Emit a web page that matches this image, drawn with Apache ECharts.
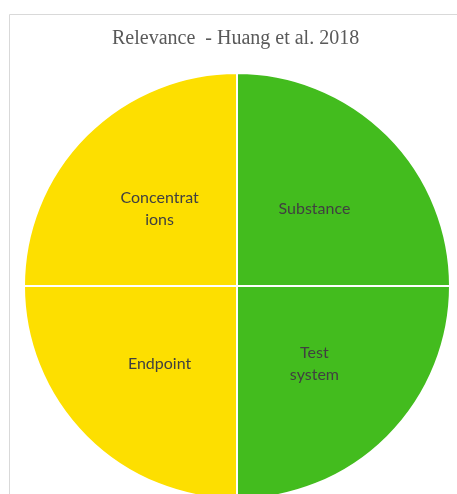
<!DOCTYPE html>
<html lang="en">
<head>
    <meta charset="UTF-8">
    <title>Relevance - Huang et al. 2018</title>
    <style>
        html, body { margin: 0; padding: 0; background: #fff; }
        #chart { width: 457px; height: 494px; }
    </style>
</head>
<body>
    <div id="chart"></div>
    <script src="https://cdn.jsdelivr.net/npm/echarts@6/dist/echarts.min.js"></script>
    <script>
        // criteria in clockwise order from 12 o'clock
        let categories = ['Substance', 'Test\nsystem', 'Endpoint', 'Concentrat\nions']
        let values = [1, 1, 1, 1]
        let colors = ['#43bc1e', '#43bc1e', '#fddf00', '#fddf00']

        let chart = echarts.init(document.getElementById('chart'))

        let sData = categories.map((name, i) => {
            return { name: name, value: values[i], itemStyle: { color: colors[i] } }
        })

        let option = {
            animation: false,
            title: {
                text: 'Relevance  - Huang et al. 2018',
                left: 107,
                top: 24,
                textStyle: {
                    fontFamily: 'Liberation Serif',
                    fontWeight: 'normal',
                    fontSize: 20,
                    color: '#595959'
                }
            },
            graphic: [
                {
                    type: 'rect',
                    shape: { x: 9.5, y: 14.5, width: 470, height: 500 },
                    style: { fill: null, stroke: '#d9d9d9', lineWidth: 1 },
                    silent: true
                }
            ],
            series: [
                {
                    type: 'pie',
                    radius: 213,
                    center: [237, 286],
                    startAngle: 90,
                    clockwise: true,
                    data: sData,
                    itemStyle: { borderColor: '#fff', borderWidth: 2 },
                    label: {
                        position: 'inner',
                        fontFamily: 'Lato',
                        fontSize: 16,
                        lineHeight: 22,
                        color: '#404040',
                        formatter: '{b}'
                    },
                    labelLine: { show: false },
                    emphasis: { disabled: true }
                }
            ]
        }
        chart.setOption(option)
    </script>
</body>
</html>
